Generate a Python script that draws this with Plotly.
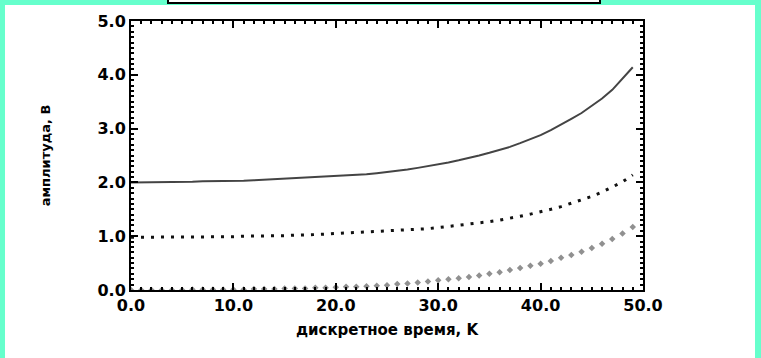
import plotly.graph_objects as go

# discrete time samples k = 0 .. 49
k = list(range(50))

# upper signal (solid line), volts
upper = [2.00, 2.00, 2.00, 2.00, 2.01, 2.01, 2.01, 2.02, 2.02, 2.02,
         2.03, 2.03, 2.04, 2.05, 2.05, 2.06, 2.07, 2.08, 2.09, 2.10,
         2.11, 2.12, 2.14, 2.15, 2.17, 2.19, 2.21, 2.24, 2.27, 2.30,
         2.33, 2.37, 2.41, 2.45, 2.50, 2.55, 2.60, 2.66, 2.73, 2.80,
         2.88, 2.97, 3.07, 3.18, 3.29, 3.42, 3.56, 3.72, 3.92, 4.14]

# middle signal (dotted line), volts
middle = [0.98, 0.98, 0.98, 0.98, 0.98, 0.98, 0.98, 0.99, 0.99, 0.99,
          0.99, 1.00, 1.00, 1.00, 1.01, 1.01, 1.02, 1.02, 1.03, 1.04,
          1.05, 1.06, 1.06, 1.07, 1.08, 1.09, 1.10, 1.11, 1.13, 1.14,
          1.16, 1.18, 1.20, 1.22, 1.24, 1.27, 1.30, 1.33, 1.37, 1.41,
          1.45, 1.50, 1.55, 1.61, 1.67, 1.74, 1.82, 1.91, 2.01, 2.14]

# lower signal (diamond markers), volts
lower = [0.00, 0.00, 0.00, 0.00, 0.00, 0.00, 0.01, 0.01, 0.01, 0.01,
         0.01, 0.01, 0.02, 0.02, 0.02, 0.03, 0.03, 0.03, 0.04, 0.04,
         0.05, 0.06, 0.06, 0.07, 0.08, 0.09, 0.11, 0.12, 0.14, 0.16,
         0.18, 0.20, 0.22, 0.24, 0.27, 0.30, 0.33, 0.37, 0.41, 0.45,
         0.49, 0.54, 0.60, 0.65, 0.71, 0.78, 0.86, 0.95, 1.05, 1.17]

x_ticks = [0, 10, 20, 30, 40, 50]
x_labels = ["0.0", "10.0", "20.0", "30.0", "40.0", "50.0"]
y_ticks = [0, 1, 2, 3, 4, 5]
y_labels = ["0.0", "1.0", "2.0", "3.0", "4.0", "5.0"]

FONT = "DejaVu Sans"

fig = go.Figure()
fig.add_trace(go.Scatter(x=k, y=upper, mode="lines",
                         line=dict(color="#444444", width=2)))
fig.add_trace(go.Scatter(x=k, y=middle, mode="lines",
                         line=dict(color="#111111", width=3, dash="3px,7px")))
fig.add_trace(go.Scatter(x=k, y=lower, mode="markers",
                         marker=dict(symbol="diamond", size=5, color="#909090",
                                     line=dict(width=0))))

axis_common = dict(
    showgrid=False, zeroline=False, showline=True, linecolor="black",
    linewidth=2, mirror="ticks", ticks="inside", ticklen=7, tickwidth=2,
    tickcolor="black",
    tickfont=dict(family=FONT, size=16, color="black", weight="bold"),
)

fig.update_xaxes(range=[0, 50], tickvals=x_ticks, ticktext=x_labels,
                 minor=dict(ticks="inside", dtick=1, ticklen=3, tickwidth=1.5,
                            tickcolor="black"),
                 title=dict(text="дискретное время, K", standoff=10,
                            font=dict(family=FONT, size=15, color="black",
                                      weight="bold")),
                 **axis_common)
fig.update_yaxes(range=[0, 5], tickvals=y_ticks, ticktext=y_labels,
                 minor=dict(ticks="inside", dtick=0.1, ticklen=3,
                            tickwidth=1.5, tickcolor="black"),
                 title=dict(text="амплитуда, В", standoff=44,
                            font=dict(family=FONT, size=13, color="black",
                                      weight="bold")),
                 **axis_common)

# white panel framed by the aquamarine border, plus the caption box at the top
W, H = 761, 358
L, R, T, B = 131, 118, 21, 68
pw, ph = W - L - R, H - T - B


def px_x(p):
    return (p - L) / pw


def px_y(p):
    return (H - B - p) / ph


fig.add_shape(type="rect", xref="paper", yref="paper", layer="below",
              x0=px_x(5), x1=px_x(755), y0=px_y(365), y1=px_y(5),
              fillcolor="white", line=dict(width=0))
fig.add_shape(type="rect", xref="paper", yref="paper", layer="above",
              x0=px_x(168), x1=px_x(600), y0=px_y(3), y1=px_y(-10),
              fillcolor="white", line=dict(color="black", width=2))

fig.update_layout(
    width=W, height=H,
    margin=dict(l=L, r=R, t=T, b=B, autoexpand=False),
    paper_bgcolor="#66FFCC", plot_bgcolor="white",
    showlegend=False,
)

fig.write_html("out.html")
